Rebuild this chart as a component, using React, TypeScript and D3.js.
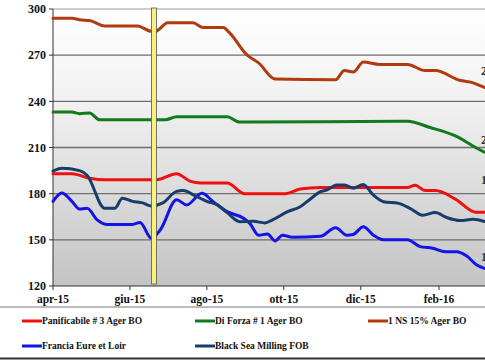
import React from 'react';
import * as d3 from 'd3';

// quotes (€/t), one list of [date, value] per series
const panificabile: [string, number][] = [
  ['2015-04-01', 193], ['2015-04-16', 193], ['2015-04-30', 190], ['2015-05-12', 189], ['2015-06-22', 189],
  ['2015-07-08', 193], ['2015-07-19', 188], ['2015-07-27', 187], ['2015-08-17', 187], ['2015-08-31', 180],
  ['2015-10-02', 180], ['2015-10-14', 183], ['2015-10-30', 184], ['2016-01-07', 184], ['2016-01-13', 185.5],
  ['2016-01-21', 182], ['2016-01-29', 182], ['2016-02-14', 176.5], ['2016-03-01', 168], ['2016-03-08', 168],
];
const diForza: [string, number][] = [
  ['2015-04-01', 233], ['2015-04-16', 233], ['2015-04-22', 232], ['2015-04-30', 232.5], ['2015-05-08', 228],
  ['2015-06-29', 228], ['2015-07-08', 230], ['2015-08-17', 230], ['2015-08-27', 226.5], ['2016-01-07', 227],
  ['2016-01-25', 223], ['2016-02-14', 217.5], ['2016-03-01', 210], ['2016-03-08', 207],
];
const ns15: [string, number][] = [
  ['2015-04-01', 294], ['2015-04-16', 294], ['2015-04-22', 293], ['2015-04-30', 292.5], ['2015-05-12', 289],
  ['2015-06-07', 289], ['2015-06-18', 285.5], ['2015-06-21', 285.5], ['2015-07-01', 291], ['2015-07-21', 291],
  ['2015-07-29', 288], ['2015-08-14', 288], ['2015-08-19', 284.5], ['2015-09-02', 270], ['2015-09-11', 265],
  ['2015-09-24', 254.5], ['2015-11-11', 254], ['2015-11-18', 260], ['2015-11-25', 259], ['2015-12-03', 265.5],
  ['2015-12-16', 264], ['2016-01-07', 264], ['2016-01-21', 260], ['2016-01-29', 260], ['2016-02-18', 253.5],
  ['2016-02-26', 252.5], ['2016-03-08', 249],
];
const francia: [string, number][] = [
  ['2015-04-01', 175], ['2015-04-08', 180.5], ['2015-04-16', 175], ['2015-04-22', 170], ['2015-04-28', 170.5],
  ['2015-05-06', 163], ['2015-05-14', 160], ['2015-06-03', 160], ['2015-06-09', 161.3], ['2015-06-18', 151],
  ['2015-06-25', 156.4], ['2015-07-08', 176], ['2015-07-16', 172.7], ['2015-07-28', 180.2], ['2015-08-06', 174.8],
  ['2015-08-17', 168.3], ['2015-08-30', 164], ['2015-09-04', 160.7], ['2015-09-11', 153], ['2015-09-18', 153.8],
  ['2015-09-24', 149.3], ['2015-09-30', 153], ['2015-10-08', 151.7], ['2015-10-30', 152.3], ['2015-11-11', 157.9],
  ['2015-11-20', 153], ['2015-11-25', 153.5], ['2015-12-03', 158.5], ['2015-12-11', 153], ['2015-12-19', 150],
  ['2016-01-07', 150], ['2016-01-17', 145.6], ['2016-01-27', 144.5], ['2016-02-06', 142.3], ['2016-02-15', 142.3],
  ['2016-02-23', 139.5], ['2016-03-02', 133.6], ['2016-03-08', 131.5],
];
const blackSea: [string, number][] = [
  ['2015-04-01', 194.7], ['2015-04-08', 196.5], ['2015-04-22', 195], ['2015-04-28', 192], ['2015-05-12', 170.5],
  ['2015-05-20', 170.5], ['2015-05-26', 177], ['2015-06-03', 175], ['2015-06-11', 174], ['2015-06-18', 172],
  ['2015-06-27', 174], ['2015-07-08', 181.5], ['2015-07-13', 182], ['2015-07-23', 178.5], ['2015-08-01', 175],
  ['2015-08-09', 172.8], ['2015-08-17', 167.7], ['2015-08-27', 161.8], ['2015-09-07', 162], ['2015-09-16', 161],
  ['2015-09-22', 163], ['2015-10-04', 168.3], ['2015-10-14', 171.5], ['2015-10-22', 176.5], ['2015-10-30', 181.3],
  ['2015-11-04', 182.4], ['2015-11-12', 185.6], ['2015-11-18', 185.6], ['2015-11-25', 183.5], ['2015-12-03', 186],
  ['2015-12-11', 179], ['2015-12-19', 174.8], ['2015-12-31', 173.7], ['2016-01-09', 170.5], ['2016-01-19', 166],
  ['2016-01-29', 167.7], ['2016-02-07', 164.5], ['2016-02-18', 162.5], ['2016-02-28', 163.3], ['2016-03-08', 161.9],
];

const yTicks = [120, 150, 180, 210, 240, 270, 300];
const xTickDates = ['2015-04-01', '2015-06-01', '2015-08-01', '2015-10-01', '2015-12-01', '2016-02-01'];
const xTickLabels = ['apr-15', 'giu-15', 'ago-15', 'ott-15', 'dic-15', 'feb-16'];
const markerDate = '2015-06-20';
const endLabels = ['250', '207', '168', '131'];

const series = [
  { name: 'Panificabile # 3 Ager BO', data: panificabile, color: '#f01010' },
  { name: 'Di Forza # 1 Ager BO', data: diForza, color: '#137a1b' },
  { name: '1 NS 15% Ager BO', data: ns15, color: '#b23a0e' },
  { name: 'Francia Eure et Loir', data: francia, color: '#1414e6' },
  { name: 'Black Sea Milling FOB', data: blackSea, color: '#173d6b' },
];

const W = 485;
const H = 360;
const left = 53;
const top = 9;
const bottom = 286;
const font = '"Liberation Serif", "Times New Roman", serif';

export default function App() {
  const parse = d3.timeParse('%Y-%m-%d');
  const x = d3.scaleTime()
    .domain([parse('2015-04-01')!, parse('2016-02-01')!])
    .range([left, 439]);
  const y = d3.scaleLinear().domain([120, 300]).range([bottom, top]);
  const right = 492;

  const line = d3.line<[string, number]>()
    .x((d) => x(parse(d[0])!))
    .y((d) => y(d[1]))
    .curve(d3.curveMonotoneX);

  const mx = x(parse(markerDate)!);
  // end labels sit to the right of the plot, cropped by the picture edge as in the original
  const labelY = [y(260), y(215), y(189), y(139)];

  return (
    <svg width={W} height={H} style={{ position: 'absolute', left: 0, top: 0, background: '#fff' }} fontFamily={font}>
      <defs>
        <linearGradient id="bg" x1="0" y1="0" x2="0" y2="1">
          <stop offset="0" stopColor="#ffffff" />
          <stop offset="0.35" stopColor="#f0f0f0" />
          <stop offset="1" stopColor="#c4c4c4" />
        </linearGradient>
      </defs>
      <rect x={left} y={top} width={right - left} height={bottom - top} fill="url(#bg)" />

      {yTicks.filter((t) => t > 120).map((t) => (
        <line key={t} x1={left} x2={right} y1={y(t)} y2={y(t)}
          stroke={t === 300 ? '#9a9a9a' : '#6e6e6e'} strokeWidth={t === 300 ? 1 : 1.3} />
      ))}

      {/* axes */}
      <line x1={left} x2={left} y1={top} y2={bottom} stroke="#333" strokeWidth={1} />
      <line x1={left} x2={right} y1={bottom} y2={bottom} stroke="#333" strokeWidth={1} />
      {yTicks.map((t) => (
        <g key={t}>
          <line x1={left - 4} x2={left} y1={y(t)} y2={y(t)} stroke="#333" />
          <text x={left - 7} y={y(t)} dy="0.35em" textAnchor="end" fontSize={12} fontWeight="bold" fill="#111">{t}</text>
        </g>
      ))}
      {xTickDates.map((d, i) => {
        const px = x(parse(d)!);
        return (
          <g key={d}>
            <line x1={px} x2={px} y1={bottom} y2={bottom + 4} stroke="#333" />
            <text x={px} y={bottom + 17} textAnchor="middle" fontSize={11.5} fontWeight="bold" fill="#111">{xTickLabels[i]}</text>
          </g>
        );
      })}

      {series.map((s) => (
        <path key={s.name} d={line(s.data) ?? ''} fill="none" stroke={s.color} strokeWidth={3}
          strokeLinejoin="round" strokeLinecap="round" />
      ))}

      {/* yellow marker bar */}
      <rect x={mx - 2.5} y={top - 1} width={5} height={bottom - top - 1} fill="#f6f27a" stroke="#555" strokeWidth={0.8} />

      {endLabels.map((l, i) => (
        <text key={l} x={481} y={labelY[i]} dy="0.35em" fontSize={12} fontWeight="bold" fill="#333">{l}</text>
      ))}

      {/* legend */}
      <line x1={0} x2={W} y1={307} y2={307} stroke="#777" strokeWidth={1} />
      <line x1={0} x2={W} y1={358.5} y2={358.5} stroke="#333" strokeWidth={2} />
      {series.map((s, i) => {
        const col = i < 3 ? i : i - 3;
        const row = i < 3 ? 0 : 1;
        const lx = 22 + col * 173;
        const ly = 321 + row * 25;
        return (
          <g key={s.name}>
            <line x1={lx} x2={lx + 20} y1={ly} y2={ly} stroke={s.color} strokeWidth={3} />
            <text x={lx + 20} y={ly} dy="0.35em" fontSize={9.5} fontWeight="bold" fill="#111">{s.name}</text>
          </g>
        );
      })}
    </svg>
  );
}
